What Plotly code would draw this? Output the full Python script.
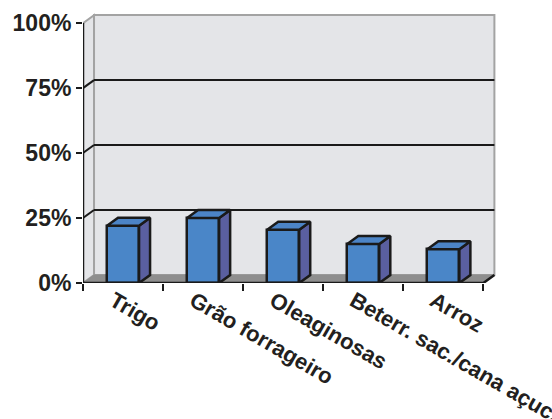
import plotly.graph_objects as go

categories = ["Trigo", "Grão forrageiro", "Oleaginosas", "Beterr. sac./cana açuc.", "Arroz"]
values = [0.22, 0.25, 0.205, 0.15, 0.13]
y_ticks = [0, 0.25, 0.5, 0.75, 1.0]
y_tick_labels = ["0%", "25%", "50%", "75%", "100%"]

W, H = 552, 419
PX_X = 80.0      # px per category
PX_Y = 260.0     # px per 100%
DX = 11 / PX_X   # depth offset in category units
DY = 8 / PX_Y    # depth offset in value units
BW = 0.4
PADX, PADY = 0.02, 0.012
n = len(categories)
xs = list(range(n))
x0, x1 = -0.5, n - 0.5
xr = [x0, x1 + DX + PADX]
yr = [0, 1 + DY + PADY]
plot_w = (xr[1] - xr[0]) * PX_X
plot_h = (yr[1] - yr[0]) * PX_Y
ml, mb = 83, 136
mt = H - mb - plot_h
mr = W - ml - plot_w

FRONT = "#4a86c8"
SIDE = "#5a5fa0"
TOP = "#4c84c6"
WALL = "#e4e5e8"
FLOOR = "#8e8e8e"
EDGE = "#a3a3a3"
INK = "#1a1a1a"

fig = go.Figure()

# front faces
fig.add_trace(go.Bar(x=xs, y=values, width=BW, marker=dict(color=FRONT, line=dict(color=INK, width=2.5)),
                     hoverinfo="skip", showlegend=False))

# sides and tops
sx, sy, tx, ty = [], [], [], []
for c, v in zip(xs, values):
    r = c + BW / 2
    l = c - BW / 2
    sx += [r, r + DX, r + DX, r, r, None]
    sy += [0, DY, v + DY, v, 0, None]
    tx += [l, r, r + DX, l + DX, l, None]
    ty += [v, v, v + DY, v + DY, v, None]
fig.add_trace(go.Scatter(x=sx, y=sy, mode="lines", fill="toself", fillcolor=SIDE,
                         line=dict(color=INK, width=2.5), hoverinfo="skip", showlegend=False))
fig.add_trace(go.Scatter(x=tx, y=ty, mode="lines", fill="toself", fillcolor=TOP,
                         line=dict(color=INK, width=2.5), hoverinfo="skip", showlegend=False))

# front axis lines
fig.add_trace(go.Scatter(x=[x0, x0], y=[0, 1], mode="lines", line=dict(color=INK, width=2.5),
                         cliponaxis=False, hoverinfo="skip", showlegend=False))
fig.add_trace(go.Scatter(x=[x0, x1, x1 + DX], y=[0, 0, DY], mode="lines", line=dict(color=INK, width=2.5),
                         cliponaxis=False, hoverinfo="skip", showlegend=False))
# dummy for tick axis
fig.add_trace(go.Scatter(x=[x0], y=[0], xaxis="x2", mode="markers", marker=dict(opacity=0),
                         hoverinfo="skip", showlegend=False))

shapes = []
# back wall
shapes.append(dict(type="rect", xref="x", yref="y", x0=x0 + DX, x1=x1 + DX, y0=DY, y1=1 + DY,
                   fillcolor=WALL, line=dict(color=EDGE, width=2), layer="below"))
# left wall
shapes.append(dict(type="path", xref="x", yref="y",
                   path=f"M {x0},{0} L {x0+DX},{DY} L {x0+DX},{1+DY} L {x0},{1} Z",
                   fillcolor=WALL, line=dict(color=EDGE, width=2), layer="below"))
# floor
shapes.append(dict(type="path", xref="x", yref="y",
                   path=f"M {x0},0 L {x1},0 L {x1+DX},{DY} L {x0+DX},{DY} Z",
                   fillcolor=FLOOR, line=dict(color=FLOOR, width=1), layer="below"))
# gridlines
for v in y_ticks[1:-1]:
    shapes.append(dict(type="line", xref="x", yref="y", x0=x0 + DX, x1=x1 + DX, y0=v + DY, y1=v + DY,
                       line=dict(color=INK, width=2), layer="below"))
    shapes.append(dict(type="line", xref="x", yref="y", x0=x0, x1=x0 + DX, y0=v, y1=v + DY,
                       line=dict(color=INK, width=2), layer="below"))

FAM = "Liberation Sans, Arial, sans-serif"

fig.update_layout(
    width=W, height=H,
    margin=dict(l=ml, r=mr, t=mt, b=mb, pad=0, autoexpand=False),
    paper_bgcolor="white", plot_bgcolor="white",
    shapes=shapes,
    bargap=0,
    xaxis=dict(range=xr, tickvals=[c - 0.12 for c in xs], ticktext=[f"<b>{c}</b>" for c in categories],
               tickangle=30, ticks="", showgrid=False, zeroline=False, showline=False, automargin=False,
               ticklabelstandoff=0, ticklabeloverflow="allow",
               tickfont=dict(family=FAM, size=22, color="#231f20")),
    xaxis2=dict(range=xr, overlaying="x", anchor="y", side="bottom", automargin=False,
                tickvals=[c - 0.5 for c in range(n + 1)], ticks="outside", ticklen=7, tickwidth=2,
                tickcolor=INK, showticklabels=False, showgrid=False, zeroline=False, showline=False),
    yaxis=dict(range=yr, tickvals=y_ticks, ticktext=[f"<b>{t}</b>" for t in y_tick_labels],
               ticks="outside", ticklen=6, tickwidth=2, tickcolor=INK, automargin=False,
               showgrid=False, zeroline=False, showline=False, ticklabeloverflow="allow",
               tickfont=dict(family=FAM, size=23, color="#231f20")),
)

fig.write_html("out.html")
